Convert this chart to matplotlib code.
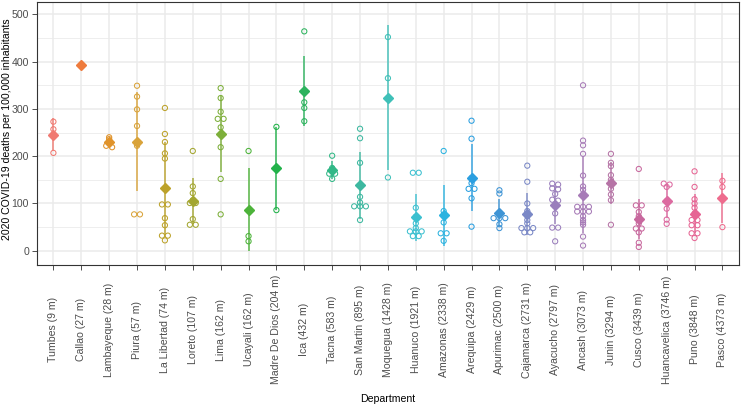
import numpy as np
import matplotlib.pyplot as plt
from matplotlib.ticker import MultipleLocator

# Departments ordered by altitude of the capital
departments = ["Tumbes", "Callao", "Lambayeque", "Piura", "La Libertad", "Loreto",
               "Lima", "Ucayali", "Madre De Dios", "Ica", "Tacna", "San Martin",
               "Moquegua", "Huanuco", "Amazonas", "Arequipa", "Apurimac", "Cajamarca",
               "Ayacucho", "Ancash", "Junin", "Cusco", "Huancavelica", "Puno", "Pasco"]
altitudes = [9, 27, 28, 57, 74, 107, 162, 162, 204, 432, 583, 895, 1428, 1921,
             2338, 2429, 2500, 2731, 2797, 3073, 3294, 3439, 3746, 3848, 4373]

# Deaths per 100,000 inhabitants, one value per province
rates = [
    [273, 257, 207],                                            # Tumbes
    [393],                                                      # Callao
    [240, 236, 229, 222, 219],                                  # Lambayeque
    [349, 326, 299, 264, 230, 222, 77, 77],                     # Piura
    [302, 247, 230, 206, 195, 98, 98, 69, 54, 32, 32, 22],      # La Libertad
    [211, 136, 122, 107, 101, 101, 67, 55, 55],                 # Loreto
    [344, 323, 294, 279, 279, 261, 246, 219, 152, 77],          # Lima
    [211, 85, 31, 20],                                          # Ucayali
    [262, 176, 86],                                             # Madre De Dios
    [464, 338, 314, 302, 274],                                  # Ica
    [201, 175, 163, 163, 152],                                  # Tacna
    [258, 238, 186, 114, 102, 94, 94, 94, 65],                  # San Martin
    [452, 365, 155],                                            # Moquegua
    [165, 165, 91, 72, 58, 48, 41, 41, 41, 31, 31],             # Huanuco
    [211, 84, 74, 60, 37, 37, 21],                              # Amazonas
    [275, 237, 154, 143, 131, 131, 111, 51],                    # Arequipa
    [128, 121, 81, 69, 69, 69, 56, 48],                         # Apurimac
    [180, 146, 100, 84, 74, 65, 58, 48, 48, 48, 39, 39],        # Cajamarca
    [142, 140, 132, 130, 120, 108, 106, 94, 79, 49, 49, 20],    # Ayacucho
    [350, 233, 223, 205, 159, 136, 129, 117, 93, 93, 93,
     83, 83, 83, 73, 65, 60, 55, 30, 11],                       # Ancash
    [205, 186, 179, 160, 150, 142, 131, 119, 107, 55],          # Junin
    [173, 96, 96, 82, 73, 68, 64, 58, 47, 47, 39, 17, 8],       # Cusco
    [142, 140, 135, 105, 89, 66, 57],                           # Huancavelica
    [168, 135, 109, 100, 91, 79, 65, 65, 54, 54, 37, 37, 27],   # Puno
    [148, 135, 50],                                             # Pasco
]

# colours, one per department
palette = ["#F07A72", "#EE7B3D", "#E0932B", "#D9A33A", "#BCA22A", "#A3A630",
           "#7DAF3A", "#4DB33A", "#22B24A", "#2DB35E", "#32B887", "#3DB8A0",
           "#3FC0B8", "#3CC0D0", "#2CB3E0", "#2B9FE0", "#3E94D5", "#7A88C6",
           "#9A7EBC", "#A77BB7", "#B674A6", "#C8689E", "#DC6AA0", "#E66594",
           "#EE6C8E"]


def dot_offsets(vals, binwidth=4, step=0.21):
    # centre equal values side by side, like a centred dotplot
    order = np.argsort(vals)[::-1]
    offs = np.zeros(len(vals))
    groups = []
    for idx in order:
        if groups and abs(vals[groups[-1][0]] - vals[idx]) < binwidth:
            groups[-1].append(idx)
        else:
            groups.append([idx])
    for g in groups:
        k = len(g)
        for j, idx in enumerate(g):
            offs[idx] = (j - (k - 1) / 2) * step
    return offs


plt.rcParams['font.family'] = ['Liberation Sans', 'DejaVu Sans']

labels = [f"{d} ({a} m)" for d, a in zip(departments, altitudes)]
xpos = np.arange(1, len(departments) + 1)

fig = plt.figure(figsize=(7.41, 4.07), dpi=100)
ax = fig.add_axes([0.0495, 0.349, 0.948, 0.646])

for x, vals, c in zip(xpos, rates, palette):
    vals = np.array(vals, dtype=float)
    m = vals.mean()
    if len(vals) > 1:
        sd = vals.std(ddof=1)
        ax.vlines(x, m - sd, m + sd, color=c, lw=1.2, alpha=0.85, zorder=3)
    ax.scatter(x + dot_offsets(vals), vals, s=14, facecolors='none',
               edgecolors=c, linewidths=0.75, zorder=4)
    ax.plot(x, m, marker='D', ms=5.5, color=c, mec=c, zorder=5)

ax.set_xlim(0.4, len(departments) + 0.6)
ax.set_ylim(-30, 526)
ax.set_xticks(xpos)
ax.set_xticklabels(labels, rotation=90, va='center', ha='center')
ax.yaxis.set_major_locator(MultipleLocator(100))
ax.yaxis.set_minor_locator(MultipleLocator(50))

ax.grid(which='major', color='#EBEBEB', lw=1.1)
ax.grid(which='minor', axis='y', color='#EBEBEB', lw=0.6)
ax.set_axisbelow(True)
for s in ax.spines.values():
    s.set_color('#333333')
    s.set_linewidth(0.8)

ax.tick_params(axis='x', length=3.5, width=0.6, color='#333333', labelsize=7.6,
               labelcolor='#4D4D4D', pad=43)
ax.tick_params(axis='y', length=3.5, width=0.6, color='#333333', labelsize=7.6,
               labelcolor='#4D4D4D', pad=2)
ax.tick_params(axis='y', which='minor', length=0)

fig.text(7 / 741, 0.683, "2020 COVID-19 deaths per 100,000 inhabitants", fontsize=7.6,
         rotation=90, ha='center', va='center')
fig.text(0.523, 0.02, "Department", fontsize=7.6, ha='center', va='center')

fig.savefig("out.png", dpi=100)
